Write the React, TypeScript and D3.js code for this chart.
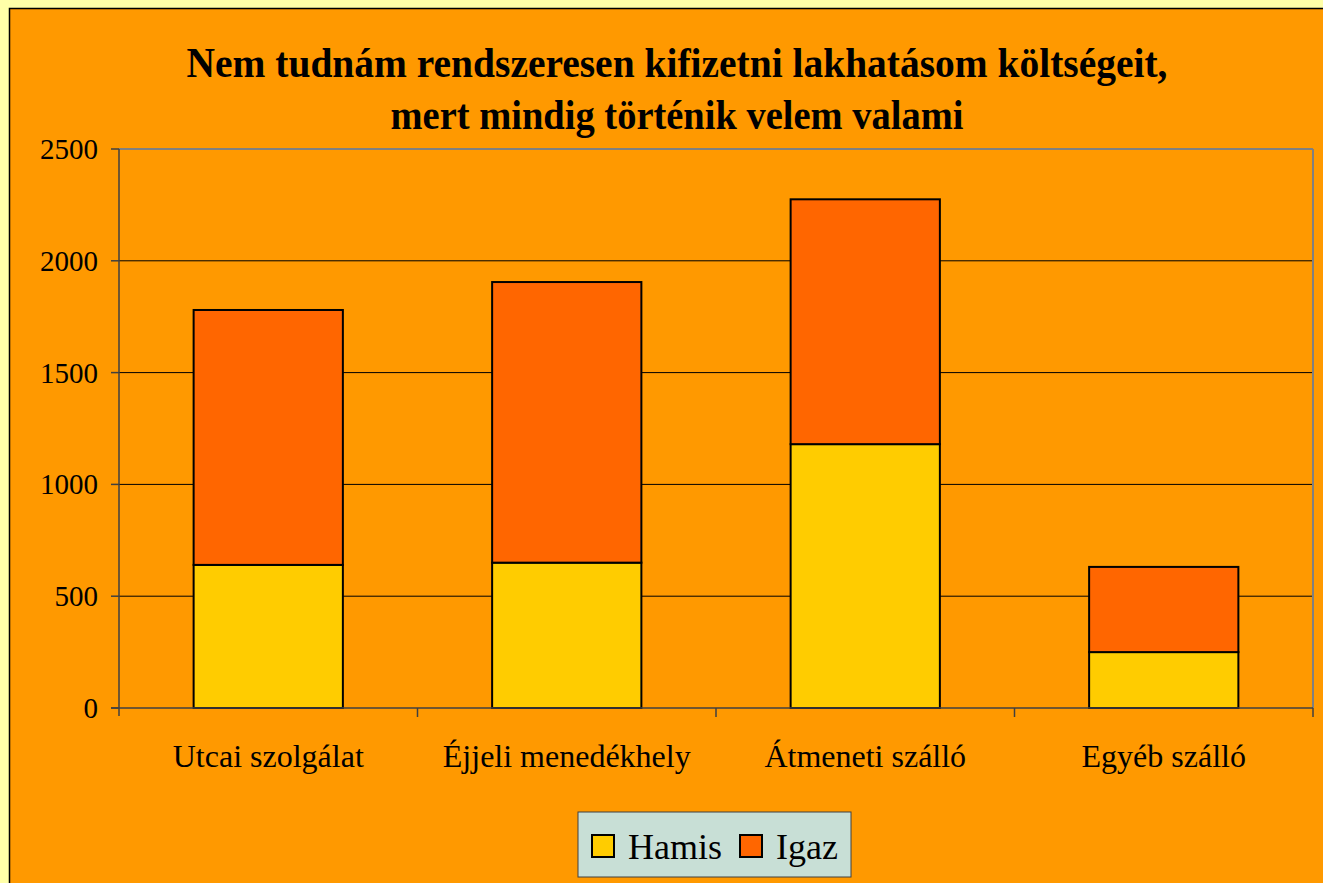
import React from "react";
import * as d3 from "d3";

const categories = ["Utcai szolgálat", "Éjjeli menedékhely", "Átmeneti szálló", "Egyéb szálló"];
const hamis = [640, 650, 1180, 250];
const igaz = [1140, 1255, 1095, 381];
const seriesNames = ["Hamis", "Igaz"];
const seriesColors = ["#FFCC00", "#FF6600"];
const yTicks = [0, 500, 1000, 1500, 2000, 2500];
const titleLines = ["Nem tudnám rendszeresen kifizetni lakhatásom költségeit,", "mert mindig történik velem valami"];

const W = 1323;
const H = 883;
const plot = { left: 119, top: 149, right: 1313, bottom: 708 };
const font = "'Liberation Serif', 'Times New Roman', serif";

export default function App() {
  const x = d3.scaleBand().domain(categories).range([plot.left, plot.right]).paddingInner(0.5).paddingOuter(0.25);
  const band = d3.scaleBand().domain(categories).range([plot.left, plot.right]);
  const y = d3.scaleLinear().domain([0, 2500]).range([plot.bottom, plot.top]);

  const rows = categories.map((c, i) => ({ cat: c, Hamis: hamis[i], Igaz: igaz[i] }));
  const stacked = d3.stack<any>().keys(seriesNames)(rows);

  return (
    <svg width={W} height={H} style={{ position: "absolute", left: 0, top: 0 }}>
      <rect x={0} y={0} width={W} height={H} fill="#FFFFA8" />
      <rect x={9.5} y={8.5} width={W + 10} height={H + 10} fill="#FF9900" stroke="#000" strokeWidth={1.5} />

      {titleLines.map((t, i) => (
        <text key={i} x={677} y={77 + i * 52} textAnchor="middle" fontFamily={font} fontWeight="bold"
          fontSize={42} fill="#000" textLength={i === 0 ? 981 : 573} lengthAdjust="spacingAndGlyphs">
          {t}
        </text>
      ))}

      {/* grid */}
      {yTicks.filter(v => v > 0 && v < 2500).map(v => (
        <line key={v} x1={plot.left} x2={plot.right} y1={y(v)} y2={y(v)} stroke="#000" strokeWidth={1} />
      ))}
      <line x1={plot.left} x2={plot.right} y1={plot.top} y2={plot.top} stroke="#808080" strokeWidth={2} />
      <line x1={plot.right} x2={plot.right} y1={plot.top} y2={plot.bottom} stroke="#808080" strokeWidth={2} />

      {/* bars */}
      {stacked.map((s, si) => s.map((d, i) => (
        <rect key={si + "-" + i} x={x(categories[i])} y={y(d[1])} width={x.bandwidth()}
          height={y(d[0]) - y(d[1])} fill={seriesColors[si]} stroke="#000" strokeWidth={2} />
      )))}

      {/* axes */}
      <line x1={plot.left} x2={plot.left} y1={plot.top} y2={plot.bottom + 8} stroke="#404040" strokeWidth={1.5} />
      <line x1={plot.left - 8} x2={plot.right} y1={plot.bottom} y2={plot.bottom} stroke="#404040" strokeWidth={1.5} />
      {yTicks.map(v => (
        <g key={v}>
          <line x1={plot.left - 8} x2={plot.left} y1={y(v)} y2={y(v)} stroke="#404040" strokeWidth={1.5} />
          <text x={98} y={y(v) + 10} textAnchor="end" fontFamily={font} fontSize={29} fill="#000">{v}</text>
        </g>
      ))}
      {categories.map((c) => (
        <g key={c}>
          <line x1={(band(c) as number) + band.bandwidth()} x2={(band(c) as number) + band.bandwidth()}
            y1={plot.bottom} y2={plot.bottom + 9} stroke="#404040" strokeWidth={1.5} />
          <text x={(band(c) as number) + band.bandwidth() / 2} y={767} textAnchor="middle" fontFamily={font}
            fontSize={32} fill="#000">{c}</text>
        </g>
      ))}

      {/* legend */}
      <rect x={578} y={812} width={273} height={65} fill="#C8DFD6" stroke="#404040" strokeWidth={1} />
      {seriesNames.map((n, i) => {
        const lx = [592, 740][i];
        return (
          <g key={n}>
            <rect x={lx} y={835} width={22} height={22} fill={seriesColors[i]} stroke="#000" strokeWidth={2} />
            <text x={lx + 36} y={859} fontFamily={font} fontSize={36} fill="#000">{n}</text>
          </g>
        );
      })}
    </svg>
  );
}
